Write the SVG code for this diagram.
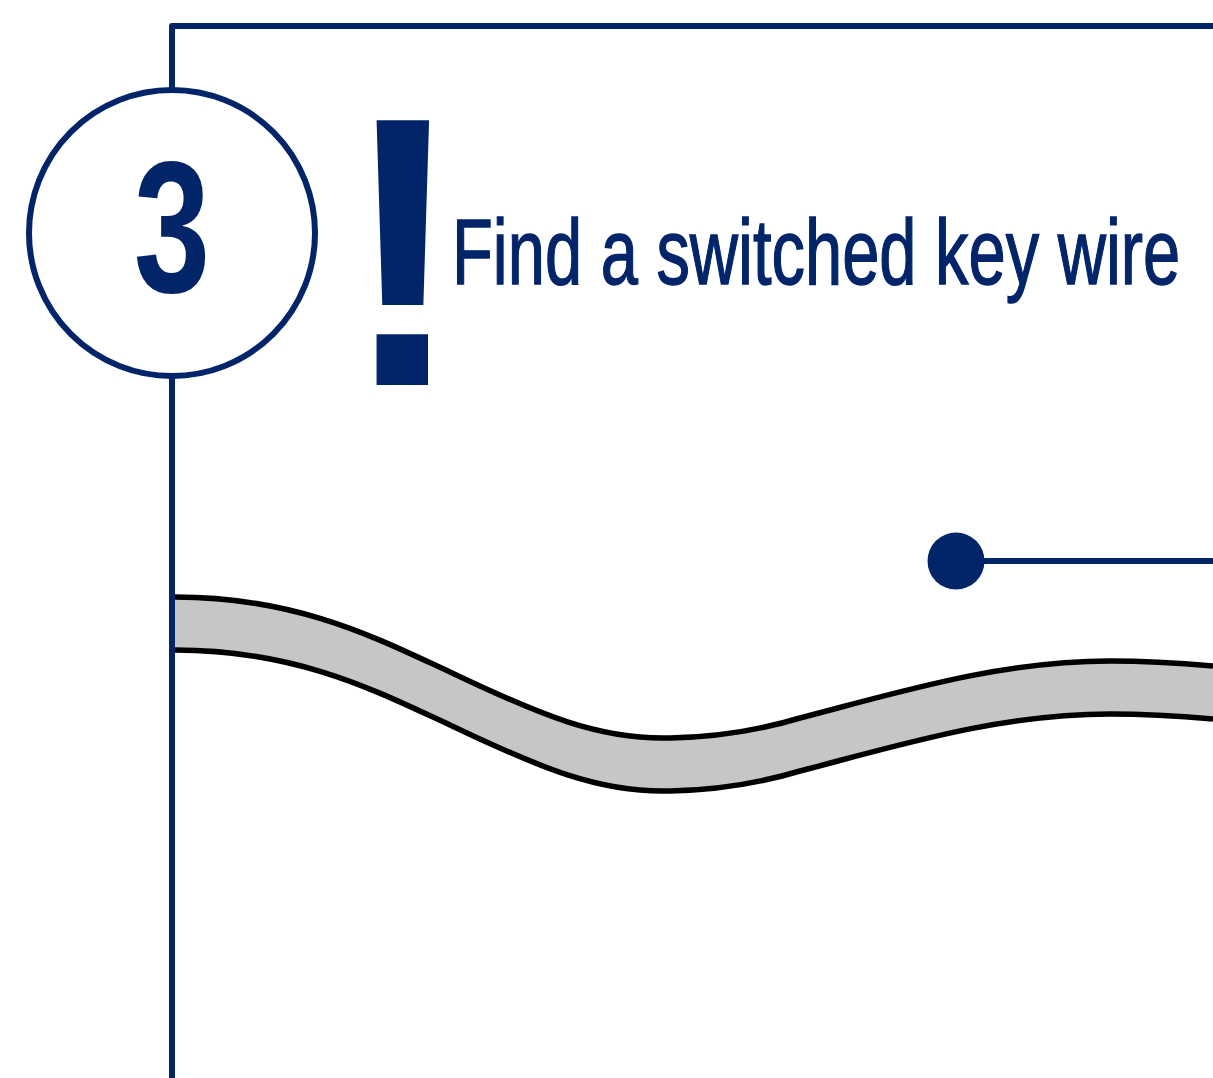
<svg xmlns="http://www.w3.org/2000/svg" width="1213" height="1078" viewBox="0 0 1213 1078">
<style>
.blue{stroke:#022569;stroke-width:6;fill:none;stroke-linejoin:round}
.edge{stroke:#000;stroke-width:5.5;fill:none}
.t{fill:#022569;font-family:"Liberation Sans",Arial,sans-serif}
</style>
<rect width="1213" height="1078" fill="#fff"/>
<g id="connectors">
<path class="blue" d="M172,1078 V26 H1213"/>
<line class="blue" x1="956" y1="561" x2="1213" y2="561"/>
</g>
<g id="cable">
<path fill="#c6c6c6" d="M175,597 C300,597 380,640 450,672 C540,715 600,740 670,738 C720,737 760,730 800,718 C900,692 1000,661 1110,661 C1150,661 1190,664 1213,666 L1213,719 C1190,717 1150,714 1110,714 C1000,714 900,745 800,771 C760,783 720,790 670,791 C600,793 540,768 450,725 C380,693 300,650 175,650 Z"/>
<path class="edge" d="M175,597 C300,597 380,640 450,672 C540,715 600,740 670,738 C720,737 760,730 800,718 C900,692 1000,661 1110,661 C1150,661 1190,664 1213,666"/>
<path class="edge" d="M175,650 C300,650 380,693 450,725 C540,768 600,793 670,791 C720,790 760,783 800,771 C900,745 1000,714 1110,714 C1150,714 1190,717 1213,719"/>
</g>
<g id="step">
<circle cx="172" cy="233" r="143" fill="#fff" stroke="#022569" stroke-width="6"/>
<text class="t" transform="translate(172,292) scale(0.73,1)" text-anchor="middle" font-size="188" font-weight="bold">3</text>
</g>
<g id="alert">
<text class="t" transform="translate(403,385) scale(0.95,1)" text-anchor="middle" font-size="385" font-weight="bold">!</text>
</g>
<g id="title">
<text class="t" transform="translate(452,284) scale(0.719,1)" font-size="93" stroke="#022569" stroke-width="1.4">Find a switched key wire</text>
</g>
<g id="dot">
<circle cx="956" cy="561" r="28.5" fill="#022569"/>
</g>
</svg>
